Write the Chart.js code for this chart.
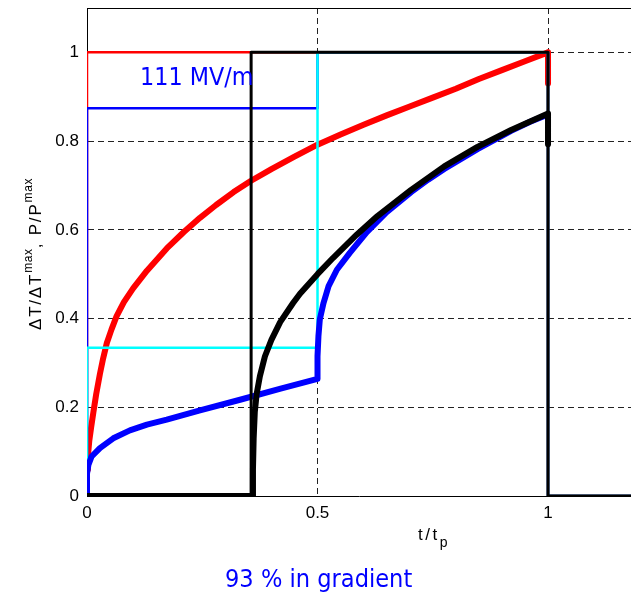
<!DOCTYPE html>
<html>
<head>
<meta charset="utf-8">
<script src="https://cdn.jsdelivr.net/npm/chart.js@4/dist/chart.umd.min.js"></script>
<style>
    html, body { margin: 0; padding: 0; background: #fff; overflow: hidden; }
    #wrap { position: relative; width: 631px; height: 595px; }
    #chart { position: absolute; left: 0; top: 0; }
    .lbl { position: absolute; white-space: nowrap; color: #000; font-family: "Liberation Sans", Arial, sans-serif; }
    .note { position: absolute; white-space: nowrap; color: #0000ff; font-family: "DejaVu Sans", sans-serif; font-size: 24px; line-height: 24px; transform-origin: 0 0; }
    #ytitle { left: 20px; top: 330px; font-size: 17px; line-height: 17px; letter-spacing: 1.8px; transform-origin: 0 0; transform: rotate(-90deg); }
    #xtitle { left: 418px; top: 526px; font-size: 17px; line-height: 17px; letter-spacing: 2.5px; }
    .sup { font-size: 12px; vertical-align: 9px; letter-spacing: 0.6px; }
    .sub { font-size: 14px; vertical-align: -7px; }
</style>
</head>
<body>
<div id="wrap">
    <canvas id="chart" width="631" height="595"></canvas>
    <div class="lbl" id="ytitle">&Delta;T/&Delta;T<span class="sup">max</span>, P/P<span class="sup">max</span></div>
    <div class="lbl" id="xtitle">t/t<span class="sub">p</span></div>
    <div class="note" style="left:140px; top:65px; transform: scaleX(0.93);">111 MV/m</div>
    <div class="note" style="left:225px; top:567px; transform: scaleX(0.94);">93 % in gradient</div>
</div>
<script>
    // axis ticks
    const xTicks = [0, 0.5, 1];
    const yTicks = [0, 0.2, 0.4, 0.6, 0.8, 1];
    const xMax = 1.18;
    const yMax = 1.1;

    // pulse shapes (thin lines), P/Pmax
    const redPulseX = [0, 0, 1, 1, 1.5];
    const redPulseY = [0, 1, 1, 0, 0];
    const bluePulseX = [0, 0, 0.5, 0.5, 1, 1, 1.5];
    const bluePulseY = [0, 0.874, 0.874, 1, 1, 0, 0];
    const cyanPulseX = [0, 0, 0.5, 0.5, 1, 1, 1.5];
    const cyanPulseY = [0, 0.334, 0.334, 1, 1, 0, 0];
    const blackPulseX = [0, 0.356, 0.356, 1, 1, 1.5];
    const blackPulseY = [0, 0, 1, 1, 0, 0];

    // temperature rise (thick lines), dT/dTmax
    const redTempX = [0, 0.002, 0.005, 0.009, 0.014, 0.02, 0.028, 0.035, 0.043, 0.053, 0.064, 0.08, 0.1, 0.13, 0.173, 0.21, 0.245, 0.28, 0.318, 0.355, 0.4, 0.45, 0.5, 0.55, 0.6, 0.65, 0.7, 0.75, 0.8, 0.85, 0.9, 0.95, 1, 1];
    const redTempY = [0.06, 0.09, 0.125, 0.155, 0.19, 0.23, 0.275, 0.31, 0.345, 0.375, 0.405, 0.437, 0.468, 0.508, 0.558, 0.595, 0.627, 0.656, 0.685, 0.71, 0.737, 0.765, 0.792, 0.815, 0.837, 0.858, 0.878, 0.898, 0.918, 0.94, 0.96, 0.98, 1, 0.93];

    const blueTempX = [0, 0, 0.003, 0.01, 0.028, 0.057, 0.093, 0.13, 0.173, 0.245, 0.332, 0.42, 0.5, 0.5, 0.502, 0.505, 0.513, 0.524, 0.542, 0.57, 0.607, 0.65, 0.703, 0.74, 0.775, 0.847, 0.92, 0.96, 1];
    const blueTempY = [0, 0.05, 0.07, 0.089, 0.108, 0.13, 0.148, 0.161, 0.172, 0.193, 0.217, 0.242, 0.264, 0.315, 0.36, 0.398, 0.435, 0.473, 0.51, 0.548, 0.595, 0.64, 0.685, 0.713, 0.737, 0.782, 0.823, 0.843, 0.86];

    const blackTempX = [0, 0.358, 0.36, 0.3615, 0.364, 0.368, 0.375, 0.386, 0.4, 0.419, 0.447, 0.462, 0.5, 0.534, 0.585, 0.63, 0.703, 0.775, 0.847, 0.92, 1, 1];
    const blackTempY = [0, 0, 0.06, 0.13, 0.19, 0.23, 0.27, 0.315, 0.352, 0.392, 0.435, 0.456, 0.5, 0.537, 0.589, 0.631, 0.69, 0.743, 0.787, 0.825, 0.862, 0.793];

    function pts(xs, ys) {
        return xs.map((x, i) => ({ x: x, y: ys[i] }));
    }

    function line(xs, ys, color, width) {
        return {
            data: pts(xs, ys),
            borderColor: color,
            backgroundColor: color,
            borderWidth: width,
            borderCapStyle: 'butt',
            borderJoinStyle: 'round',
            pointRadius: 0,
            tension: 0,
            fill: false
        };
    }

    const tickFont = { family: '"Liberation Sans", Arial, sans-serif', size: 17 };

    // solid frame line along the top of the plot area
    const topFrame = {
        id: 'topFrame',
        beforeDatasetsDraw(chart) {
            const a = chart.chartArea;
            const ctx = chart.ctx;
            ctx.save();
            ctx.strokeStyle = '#000';
            ctx.lineWidth = 1;
            ctx.beginPath();
            ctx.moveTo(a.left, a.top + 0.5);
            ctx.lineTo(a.right, a.top + 0.5);
            ctx.stroke();
            ctx.restore();
        }
    };

    // first dataset is drawn on top
    const datasets = [
        line(blackTempX, blackTempY, '#000000', 6),
        line(blackPulseX, blackPulseY, '#000000', 3),
        line(blueTempX, blueTempY, '#0000ff', 6),
        line(cyanPulseX, cyanPulseY, '#00ffff', 2.5),
        line(bluePulseX, bluePulseY, '#0000ff', 2.5),
        line(redTempX, redTempY, '#ff0000', 6),
        line(redPulseX, redPulseY, '#ff0000', 2.5)
    ];

    new Chart(document.getElementById('chart'), {
        type: 'line',
        data: { datasets: datasets },
        options: {
            responsive: false,
            animation: false,
            devicePixelRatio: 1,
            layout: { padding: { top: 8, right: 0, left: 0, bottom: 0 } },
            plugins: {
                legend: { display: false },
                tooltip: { enabled: false }
            },
            scales: {
                x: {
                    type: 'linear',
                    min: 0,
                    max: xMax,
                    afterBuildTicks: (s) => { s.ticks = xTicks.map(v => ({ value: v })); },
                    afterFit: (s) => { s.height = 99; s.paddingLeft = 0; s.paddingRight = 0; },
                    grid: {
                        drawTicks: false,
                        lineWidth: 1,
                        color: (ctx) => ctx.tick && ctx.tick.value === 0 ? 'rgba(0,0,0,0)' : '#222'
                    },
                    border: { display: true, color: '#000', width: 1, dash: [6, 4] },
                    ticks: {
                        color: '#000',
                        font: tickFont,
                        padding: 7,
                        maxRotation: 0,
                        autoSkip: false,
                        callback: (v) => String(v)
                    }
                },
                y: {
                    type: 'linear',
                    min: 0,
                    max: yMax,
                    afterBuildTicks: (s) => { s.ticks = yTicks.map(v => ({ value: v })); },
                    afterFit: (s) => { s.width = 87; s.paddingTop = 0; s.paddingBottom = 0; },
                    grid: {
                        drawTicks: false,
                        lineWidth: 1,
                        color: (ctx) => ctx.tick && ctx.tick.value === 0 ? 'rgba(0,0,0,0)' : '#222'
                    },
                    border: { display: true, color: '#000', width: 1, dash: [6, 4] },
                    ticks: {
                        color: '#000',
                        font: tickFont,
                        padding: 8,
                        autoSkip: false,
                        callback: (v) => String(v)
                    }
                }
            }
        },
        plugins: [topFrame]
    });
</script>
</body>
</html>
